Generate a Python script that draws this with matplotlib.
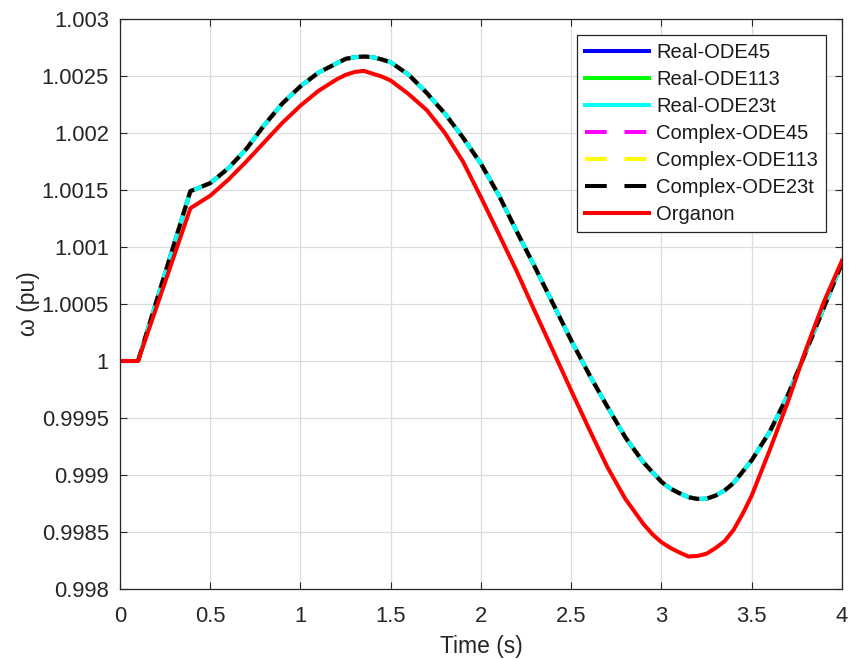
import matplotlib
matplotlib.use("Agg")
import matplotlib.pyplot as plt
from matplotlib.lines import Line2D
from matplotlib.ticker import MultipleLocator, FuncFormatter

plt.rcParams['font.family'] = ['Liberation Sans', 'DejaVu Sans']

# Rotor speed of the generator after a fault (pu), sampled in time (s)
t_sim = [0.0, 0.1, 0.39, 0.5, 0.6, 0.7, 0.8, 0.9, 1.0, 1.1, 1.2, 1.25, 1.3,
         1.35, 1.4, 1.45, 1.5, 1.6, 1.7, 1.8, 1.9, 2.0, 2.1, 2.2, 2.3, 2.4,
         2.5, 2.6, 2.7, 2.8, 2.9, 3.0, 3.05, 3.1, 3.15, 3.2, 3.25, 3.3, 3.35,
         3.4, 3.5, 3.6, 3.7, 3.8, 3.9, 4.0]

# All six solver variants give the same trajectory
omega_sim = [1.0, 1.0, 1.00149, 1.00156, 1.00169, 1.00186, 1.00207, 1.00226,
             1.00241, 1.00253, 1.00261, 1.00265, 1.002665, 1.00267, 1.002665,
             1.002645, 1.00262, 1.00251, 1.00235, 1.00217, 1.00196, 1.00173,
             1.00145, 1.00113, 1.00082, 1.0005, 1.00018, 0.99988, 0.9996,
             0.99933, 0.99911, 0.99894, 0.99888, 0.99884, 0.998805, 0.99879,
             0.998792, 0.99882, 0.998865, 0.99893, 0.99913, 0.99938, 0.9997,
             1.00008, 1.00047, 1.00086]

t_org = [0.0, 0.1, 0.39, 0.5, 0.6, 0.7, 0.8, 0.9, 1.0, 1.1, 1.2, 1.25, 1.3,
         1.35, 1.4, 1.45, 1.5, 1.6, 1.7, 1.8, 1.9, 2.0, 2.1, 2.2, 2.3, 2.4,
         2.5, 2.6, 2.7, 2.8, 2.9, 2.95, 3.0, 3.05, 3.1, 3.15, 3.2, 3.25, 3.3,
         3.35, 3.4, 3.45, 3.5, 3.6, 3.7, 3.8, 3.9, 4.0]
omega_org = [1.0, 1.0, 1.00134, 1.00145, 1.00159, 1.00175, 1.00192, 1.00209,
             1.00224, 1.00237, 1.00247, 1.00251, 1.002535, 1.002545, 1.00252,
             1.002495, 1.00246, 1.00234, 1.0022, 1.0020, 1.00175, 1.001435,
             1.00111, 1.00078, 1.00043, 1.000086, 0.99974, 0.9994, 0.99907,
             0.99879, 0.99857, 0.99848, 0.99841, 0.99836, 0.99832, 0.998285,
             0.99829, 0.99831, 0.99836, 0.99842, 0.99852, 0.99866, 0.99882,
             0.99922, 0.99964, 1.0001, 1.00052, 1.00088]

series = [
    ("Real-ODE45", omega_sim, (0, 0, 1), "-"),
    ("Real-ODE113", omega_sim, (0, 1, 0), "-"),
    ("Real-ODE23t", omega_sim, (0, 1, 1), "-"),
    ("Complex-ODE45", omega_sim, (1, 0, 1), "--"),
    ("Complex-ODE113", omega_sim, (1, 1, 0), "--"),
    ("Complex-ODE23t", omega_sim, (0, 0, 0), "--"),
]

fig = plt.figure(figsize=(8.51, 6.59), dpi=100)
ax = fig.add_axes([0.141, 0.1062, 0.8484, 0.865])

lw = 2.9
handles = []
for name, y, col, ls in series:
    if ls == "--":
        ax.plot(t_sim, y, color=col, lw=lw, dashes=(2.6, 2.1))
        handles.append(Line2D([], [], color=col, lw=lw, dashes=(5.4, 4.4),
                              label=name))
    else:
        ax.plot(t_sim, y, color=col, lw=lw)
        handles.append(Line2D([], [], color=col, lw=lw, label=name))
ax.plot(t_org, omega_org, color=(1, 0, 0), lw=lw)
handles.append(Line2D([], [], color=(1, 0, 0), lw=lw, label="Organon"))

ax.set_xlim(0, 4)
ax.set_ylim(0.998, 1.003)
ax.xaxis.set_major_locator(MultipleLocator(0.5))
ax.yaxis.set_major_locator(MultipleLocator(0.0005))
fmt = FuncFormatter(lambda v, p: f"{v:.4f}".rstrip("0").rstrip("."))
ax.xaxis.set_major_formatter(fmt)
ax.yaxis.set_major_formatter(fmt)

ax.grid(True, color="#dcdcdc", lw=0.9)
ax.set_axisbelow(True)
for s in ax.spines.values():
    s.set_color("#262626")
    s.set_linewidth(0.9)
ax.tick_params(direction="in", length=5, width=0.8, top=True, right=True,
               labelsize=15.8, colors="#262626")
ax.tick_params(axis="x", pad=12)
ax.tick_params(axis="y", pad=8)

ax.set_xlabel("Time (s)", fontsize=16.5, color="#262626", labelpad=6)
ax.set_ylabel("ω (pu)", fontsize=16.5, color="#262626", labelpad=1)

leg = ax.legend(handles=handles, loc="upper right",
                bbox_to_anchor=(0.978, 0.972),
                fontsize=14.5, handlelength=3.2, handletextpad=0.35,
                labelspacing=0.4, borderpad=0.4, borderaxespad=0,
                fancybox=False, framealpha=1, edgecolor="#262626")
leg.get_frame().set_linewidth(0.9)
for txt in leg.get_texts():
    txt.set_color("#1a1a1a")

fig.savefig("out.png", dpi=100)
